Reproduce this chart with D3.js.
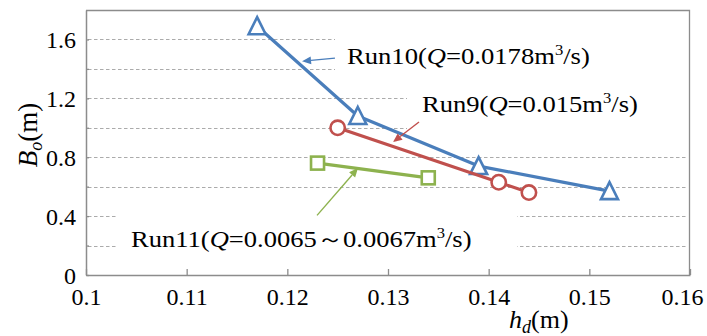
<!DOCTYPE html>
<html>
<head>
<meta charset="utf-8">
<script src="https://cdn.jsdelivr.net/npm/d3@7"></script>
<style>
  html, body { margin: 0; padding: 0; background: #fff; }
  svg { display: block; }
  svg text { font-family: "Liberation Serif", Tinos, "Times New Roman", Times, "DejaVu Serif", serif; fill: #000; }
</style>
</head>
<body>
<script>
// Opening width B_o against depth h_d for three runs
const hdRun10 = [0.117, 0.127, 0.139, 0.152];
const boRun10 = [1.69, 1.08, 0.74, 0.57];
const hdRun9 = [0.125, 0.141, 0.144];
const boRun9 = [1.00, 0.63, 0.56];
const hdRun11 = [0.123, 0.134];
const boRun11 = [0.76, 0.66];

const xTicks = [0.10, 0.11, 0.12, 0.13, 0.14, 0.15, 0.16];
const xTickLabels = ["0.1", "0.11", "0.12", "0.13", "0.14", "0.15", "0.16"];
const yTicks = [0, 0.4, 0.8, 1.2, 1.6];
const yTickLabels = ["0", "0.4", "0.8", "1.2", "1.6"];
const yGrid = [0.2, 0.4, 0.6, 0.8, 1.0, 1.2, 1.4, 1.6];

const W = 707, H = 336;
const plotL = 86, plotR = 690, plotT = 10, plotB = 275;
const SERIF = '"Liberation Serif", Tinos, "Times New Roman", Times, "DejaVu Serif", serif';

const svg = d3.select("body").append("svg").attr("width", W).attr("height", H)
  .attr("font-family", SERIF);

const x = d3.scaleLinear().domain([0.1, 0.16]).range([plotL, plotR]);
const y = d3.scaleLinear().domain([0, 1.8]).range([plotB, plotT]);

// dashed horizontal gridlines
svg.append("g").selectAll("line").data(yGrid).join("line")
  .attr("x1", plotL + 2).attr("x2", plotR - 2)
  .attr("y1", d => Math.round(y(d)) + 0.5).attr("y2", d => Math.round(y(d)) + 0.5)
  .attr("stroke", "#ababab").attr("stroke-width", 1.2).attr("stroke-dasharray", "3.5,2.5");

// plot frame (top and right)
svg.append("path")
  .attr("d", `M${plotL},${plotT + 0.5}H${plotR - 0.5}V${plotB}`)
  .attr("fill", "none").attr("stroke", "#8c8c8c").attr("stroke-width", 1.3);

// white text boxes sitting over the plot
const boxes = [
  { x0: 335, y0: 30, x1: 687, y1: 77 },
  { x0: 407, y0: 86, x1: 687, y1: 134 },
  { x0: 118, y0: 201, x1: 517, y1: 257 }
];
svg.append("g").selectAll("rect").data(boxes).join("rect")
  .attr("x", d => d.x0).attr("y", d => d.y0)
  .attr("width", d => d.x1 - d.x0).attr("height", d => d.y1 - d.y0)
  .attr("fill", "#fff");

// axes
const xAxis = d3.axisBottom(x).tickValues(xTicks).tickSizeInner(-6).tickSizeOuter(0)
  .tickFormat((d, i) => xTickLabels[i]);
const gx = svg.append("g").attr("transform", `translate(0,${plotB})`).call(xAxis)
  .attr("font-family", SERIF).attr("font-size", 24);
gx.select(".domain").attr("stroke", "#8c8c8c").attr("stroke-width", 1.5);
gx.selectAll(".tick line").attr("stroke", "#8c8c8c").attr("stroke-width", 1.3);
gx.selectAll(".tick text").attr("y", 13).attr("dy", "0.71em").attr("fill", "#000");
// keep the last label inside the canvas
gx.selectAll(".tick text").filter((d, i, n) => i === n.length - 1)
  .attr("text-anchor", "end").attr("x", 13);

const yAxis = d3.axisLeft(y).tickValues(yGrid.concat([0])).tickSizeInner(-3).tickSizeOuter(0)
  .tickFormat(d => {
    const i = yTicks.findIndex(v => Math.abs(v - d) < 1e-9);
    return i >= 0 ? yTickLabels[i] : "";
  });
const gy = svg.append("g").attr("transform", `translate(${plotL},0)`).call(yAxis)
  .attr("font-family", SERIF).attr("font-size", 24);
gy.select(".domain").attr("stroke", "#8c8c8c").attr("stroke-width", 1.5);
gy.selectAll(".tick line").attr("stroke", "#8c8c8c").attr("stroke-width", 1.3);
gy.selectAll(".tick text").attr("x", -10).attr("dy", "0.34em").attr("fill", "#000");

// series
const series = [
  { hd: hdRun10, bo: boRun10, color: "#4a7ebb", marker: "triangle" },
  { hd: hdRun9, bo: boRun9, color: "#c0504d", marker: "circle" },
  { hd: hdRun11, bo: boRun11, color: "#8db24e", marker: "square" }
];
const line = d3.line().x(d => x(d[0])).y(d => y(d[1]));

series.forEach(s => {
  const pts = s.hd.map((h, i) => [h, s.bo[i]]);
  svg.append("path").datum(pts).attr("d", line)
    .attr("fill", "none").attr("stroke", s.color).attr("stroke-width", 3.2)
    .attr("stroke-linejoin", "round");
  const g = svg.append("g");
  pts.forEach(p => {
    const cx = x(p[0]), cy = y(p[1]);
    if (s.marker === "triangle") {
      g.append("path")
        .attr("d", `M${cx},${cy - 9}L${cx + 8.5},${cy + 8}L${cx - 8.5},${cy + 8}Z`)
        .attr("fill", "#fff").attr("stroke", s.color).attr("stroke-width", 2.6)
        .attr("stroke-linejoin", "miter");
    } else if (s.marker === "circle") {
      g.append("circle").attr("cx", cx).attr("cy", cy).attr("r", 7.2)
        .attr("fill", "#fff").attr("stroke", s.color).attr("stroke-width", 2.6);
    } else {
      g.append("rect").attr("x", cx - 6.5).attr("y", cy - 6.5)
        .attr("width", 13).attr("height", 13)
        .attr("fill", "#fff").attr("stroke", s.color).attr("stroke-width", 2.6);
    }
  });
});

// callout arrows (data coordinates: tail -> head)
const arrows = [
  { from: [0.12473, 1.473], to: [0.12146, 1.452], color: "#4a7ebb" },
  { from: [0.13308, 1.039], to: [0.13050, 0.903], color: "#c0504d" },
  { from: [0.12295, 0.405], to: [0.12702, 0.726], color: "#8db24e" }
];
arrows.forEach(a => {
  const x1 = x(a.from[0]), y1 = y(a.from[1]), x2 = x(a.to[0]), y2 = y(a.to[1]);
  const ang = Math.atan2(y2 - y1, x2 - x1);
  const L = 9, Wd = 4;
  const bx = x2 - L * Math.cos(ang), by = y2 - L * Math.sin(ang);
  svg.append("line").attr("x1", x1).attr("y1", y1).attr("x2", bx).attr("y2", by)
    .attr("stroke", a.color).attr("stroke-width", 1.4);
  svg.append("path")
    .attr("d", `M${x2},${y2}L${bx - Wd * Math.sin(ang)},${by + Wd * Math.cos(ang)}L${bx + Wd * Math.sin(ang)},${by - Wd * Math.cos(ang)}Z`)
    .attr("fill", a.color);
});

// series labels
function label(parts, px, py, width) {
  const t = svg.append("text").attr("font-size", 24);
  parts.forEach(p => {
    const ts = t.append("tspan").text(p.t);
    if (p.i) ts.attr("font-style", "italic");
    if (p.sup) ts.attr("font-size", 15).attr("dy", -9);
    if (p.back) ts.attr("dy", 9);
  });
  const w = t.node().getComputedTextLength();
  t.attr("transform", `translate(${px},${py}) scale(${width / w},1)`);
  return t;
}
label([{ t: "Run10(" }, { t: "Q", i: true }, { t: "=0.0178m" }, { t: "3", sup: true }, { t: "/s)", back: true }], 347, 64, 243);
label([{ t: "Run9(" }, { t: "Q", i: true }, { t: "=0.015m" }, { t: "3", sup: true }, { t: "/s)", back: true }], 422, 112, 216);
label([{ t: "Run11(" }, { t: "Q", i: true }, { t: "=0.0065" }, { t: "～" }, { t: "0.0067m" }, { t: "3", sup: true }, { t: "/s)", back: true }], 131, 247, 341);

// axis titles
const xt = svg.append("text").attr("font-size", 26).attr("x", 509).attr("y", 328);
xt.append("tspan").text("h").attr("font-style", "italic");
xt.append("tspan").text("d").attr("font-style", "italic").attr("font-size", 18).attr("dy", 5);
xt.append("tspan").text("(m)").attr("dy", -5);

const yt = svg.append("text").attr("font-size", 27)
  .attr("transform", "translate(37,135) rotate(-90)").attr("text-anchor", "middle");
yt.append("tspan").text("B").attr("font-style", "italic");
yt.append("tspan").text("o").attr("font-style", "italic").attr("font-size", 18).attr("dy", 5);
yt.append("tspan").text("(m)").attr("dy", -5);
</script>
</body>
</html>
